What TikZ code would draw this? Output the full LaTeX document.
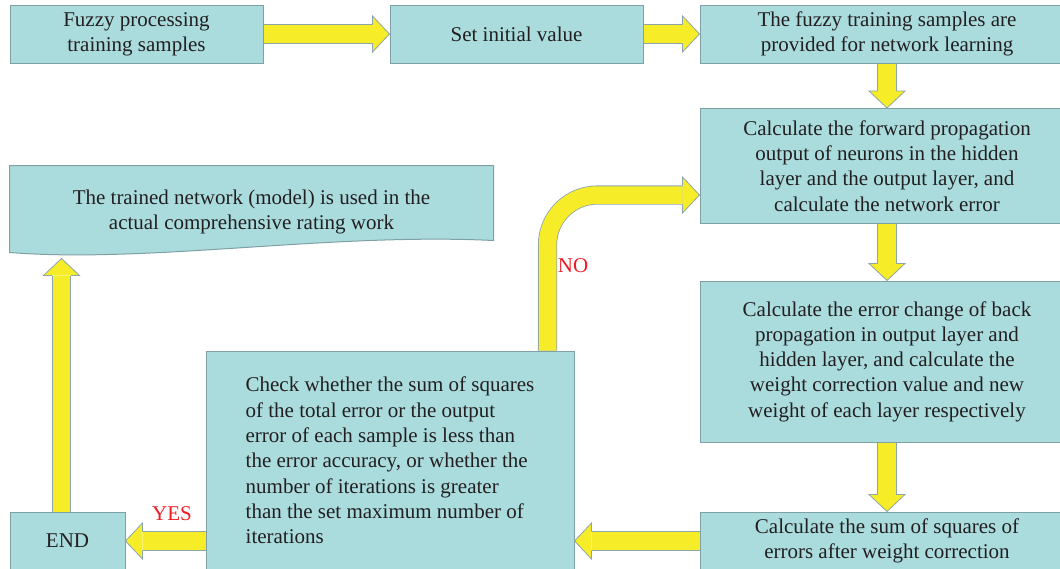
\documentclass[tikz,border=0pt]{standalone}
\usepackage{fontspec}
\setmainfont{Liberation Serif}
\usetikzlibrary{calc}
\definecolor{boxfill}{RGB}{170,220,222}
\definecolor{boxline}{RGB}{127,160,165}
\definecolor{arrowyellow}{RGB}{246,236,40}
\definecolor{arrowedge}{RGB}{140,165,170}
\definecolor{textdark}{RGB}{35,31,32}
\definecolor{lblred}{RGB}{237,28,36}
\tikzset{
	box/.style 2 args={rectangle,draw=boxline,line width=1pt,fill=boxfill,text=textdark,align=center,inner sep=0pt,minimum width=#1,minimum height=#2,font=\fontsize{21}{25.3}\selectfont},
	lbl/.style={text=lblred,inner sep=0pt,font=\fontsize{21}{25.3}\selectfont},
	shaft/.style={draw=arrowedge,line width=0.8pt,double=arrowyellow,double distance=17.5pt},
	headfill/.style={fill=arrowyellow},
	headline/.style={draw=arrowedge,line width=0.8pt,line join=miter}
}
\newcommand{\fathead}[2]{%
	\fill[headfill] ($(#1)!18pt!90:(#2)$) -- (#2) -- ($(#1)!18pt!-90:(#2)$) -- cycle;
	\draw[headline] ($(#1)!9.4pt!90:(#2)$) -- ($(#1)!18pt!90:(#2)$) -- (#2) -- ($(#1)!18pt!-90:(#2)$) -- ($(#1)!9.4pt!-90:(#2)$);
}
\newcommand{\fatarrow}[2]{%
	\coordinate (hb) at ($(#2)!17pt!(#1)$);
	\draw[shaft] (#1) -- (hb);
	\fathead{hb}{#2}
}
\begin{document}
\begin{tikzpicture}[x=1pt,y=-1pt]
	\useasboundingbox (0,0) rectangle (1060,568);
	\node [box={253pt}{58pt}] (fuzzy) at (136.5,34) {Fuzzy processing\\training samples};
	\node [box={253pt}{58pt}] (init) at (516.5,34) {Set initial value};
	\node [box={374pt}{58pt}] (samples) at (887,34) {The fuzzy training samples are\\provided for network learning};
	\node [box={374pt}{115pt}] (fwd) at (887,166) {Calculate the forward propagation\\output of neurons in the hidden\\layer and the output layer, and\\calculate the network error};
	\node [box={374pt}{161pt}] (errchg) at (887,361.5) {Calculate the error change of back\\propagation in output layer and\\hidden layer, and calculate the\\weight correction value and new\\weight of each layer respectively};
	\node [box={374pt}{58pt}] (sumsq) at (887,541) {Calculate the sum of squares of\\errors after weight correction};
	\node [box={368pt}{219pt},align=left] (chk) at (390,460.5) {Check whether the sum of squares\\of the total error or the output\\error of each sample is less than\\the error accuracy, or whether the\\number of iterations is greater\\than the set maximum number of\\iterations};
	\node [box={115pt}{58pt}] (endb) at (67.5,541) {END};
	\node [box={483pt}{92pt},draw=none,fill=none] (doc) at (251.5,212) {};
	\filldraw [draw=boxline,fill=boxfill,line width=1pt] (doc.north west) -- (doc.north east) -- ($(doc.south east)+(0,-18)$) .. controls ($(doc.south east)+(-163,-26)$) and ($(doc.south west)+(140,5)$) .. ($(doc.south west)+(0,-6)$) -- cycle;
	\node [box={483pt}{92pt},draw=none,fill=none] at (doc) {The trained network (model) is used in the\\actual comprehensive rating work};
	
	\fatarrow{fuzzy.east}{init.west}
	\fatarrow{init.east}{samples.west}
	\fatarrow{samples.south}{fwd.north}
	\fatarrow{fwd.south}{errchg.north}
	\fatarrow{errchg.south}{sumsq.north}
	\fatarrow{sumsq.west}{chk.east |- sumsq.west}
	\fatarrow{chk.west |- endb.east}{endb.east}
	\coordinate (upfoot) at ($(endb.north)+(-6,0)$);
	\coordinate (uptip) at (upfoot |- doc.south);
	\fatarrow{upfoot}{uptip}
	\coordinate (nofoot) at ($(chk.north east)+(-27,0)$);
	\coordinate (notip) at ($(fwd.west)+(0,29)$);
	\coordinate (nohb) at ($(notip)+(-17,0)$);
	\draw [shaft,rounded corners=50pt] (nofoot) |- (nohb);
	\fathead{nohb}{notip}
	
	\node [lbl] (no) at (573,266) {NO};
	\node [lbl] (yes) at (172,514) {YES};
\end{tikzpicture}
\end{document}
